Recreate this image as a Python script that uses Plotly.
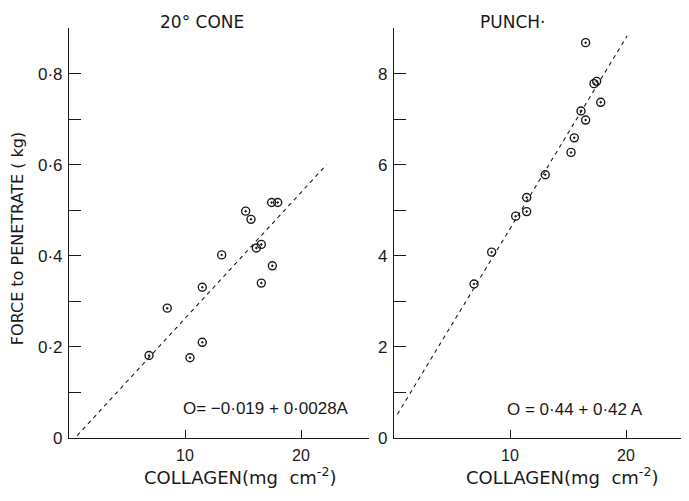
import plotly.graph_objects as go

# ---- data ----
cone_collagen = [6.9, 8.47, 10.43, 11.49, 11.49, 13.16, 15.23, 15.69, 16.15, 16.58, 16.58, 17.53, 17.47, 17.99]
cone_force = [0.181, 0.285, 0.176, 0.210, 0.331, 0.402, 0.498, 0.480, 0.417, 0.425, 0.340, 0.378, 0.517, 0.517]
cone_fit_x = [0.7, 22.2]
cone_fit_y = [0.005, 0.60]

punch_collagen = [6.90, 8.42, 10.49, 11.44, 11.44, 13.04, 15.26, 15.54, 16.12, 16.52, 17.24, 17.47, 17.82, 16.52]
punch_force = [3.38, 4.08, 4.87, 4.97, 5.28, 5.78, 6.27, 6.59, 7.18, 6.98, 7.78, 7.83, 7.37, 8.68]
punch_fit_x = [0.29, 20.1]
punch_fit_y = [0.52, 8.83]

x_tick_vals = [10, 20]
x_tick_text = ["10", "20"]
cone_y_vals = [0, 0.2, 0.4, 0.6, 0.8]
cone_y_text = ["0", "0·2", "0·4", "0·6", "0·8"]
cone_y_minor = [0.1, 0.3, 0.5, 0.7]
punch_y_vals = [0, 2, 4, 6, 8]
punch_y_text = ["0", "2", "4", "6", "8"]
punch_y_minor = [1, 3, 5, 7]

cone_title = "20° CONE"
punch_title = "PUNCH·"
x_title = "COLLAGEN(mg  cm<sup>-2</sup>)"
y_title = "FORCE to PENETRATE ( kg)"
cone_eq = "O= −0·019 + 0·0028A"
punch_eq = "O = 0·44 + 0·42 A"

# page is 689x501; the html body has an 8px margin, so the figure is 16px smaller
OFF = 8
W, H = 689 - 2 * OFF, 501 - 2 * OFF
FONT = "DejaVu Sans"
NUMFONT = "Liberation Sans"
INK = "#1a1a1a"


def px(v):
    return (v - OFF) / W


def py(v):
    return (H - (v - OFF)) / H


fig = go.Figure()

marker = dict(symbol="circle-open-dot", size=8, color=INK, line=dict(width=1.4, color=INK))
dash = dict(color=INK, width=1.1, dash="4px,4px")

fig.add_trace(go.Scatter(x=cone_fit_x, y=cone_fit_y, mode="lines", line=dash, xaxis="x", yaxis="y", hoverinfo="skip"))
fig.add_trace(go.Scatter(x=cone_collagen, y=cone_force, mode="markers", marker=marker, xaxis="x", yaxis="y"))
fig.add_trace(go.Scatter(x=punch_fit_x, y=punch_fit_y, mode="lines", line=dash, xaxis="x2", yaxis="y2", hoverinfo="skip"))
fig.add_trace(go.Scatter(x=punch_collagen, y=punch_force, mode="markers", marker=marker, xaxis="x2", yaxis="y2"))

ydom = [py(447), py(447) + (418.5 / H)]

common_x = dict(showline=True, linecolor=INK, linewidth=1.2, ticks="inside", ticklen=8, tickwidth=1.2,
                tickcolor=INK, showgrid=False, zeroline=False, tickvals=x_tick_vals, ticktext=x_tick_text,
                tickfont=dict(family=NUMFONT, size=16, color=INK), ticklabelstandoff=3, fixedrange=True)
common_y = dict(showline=True, linecolor=INK, linewidth=1.2, ticks="inside", ticklen=12, tickwidth=1.1,
                tickcolor=INK, showgrid=False, zeroline=False,
                tickfont=dict(family=NUMFONT, size=17, color=INK), domain=ydom, ticklabelstandoff=2,
                fixedrange=True)

fig.update_layout(
    width=W, height=H,
    margin=dict(l=0, r=0, t=0, b=0),
    paper_bgcolor="white", plot_bgcolor="white",
    showlegend=False,
    font=dict(family=FONT, color=INK),
    xaxis=dict(domain=[px(69), px(369)], range=[0, 300 / 11.6], anchor="y", **common_x),
    yaxis=dict(anchor="x", range=[0, 0.9], tickvals=cone_y_vals, ticktext=cone_y_text,
               minor=dict(tickvals=cone_y_minor, ticks="inside", ticklen=12, tickwidth=1.1, tickcolor=INK),
               **common_y),
    xaxis2=dict(domain=[px(394), 1.0], range=[0, (W + OFF - 394) / 11.6], anchor="y2", **common_x),
    yaxis2=dict(anchor="x2", range=[0, 9.0], tickvals=punch_y_vals, ticktext=punch_y_text,
                minor=dict(tickvals=punch_y_minor, ticks="inside", ticklen=12, tickwidth=1.1, tickcolor=INK),
                **common_y),
)


def ann(text, x, y, size, family=FONT, angle=0):
    return dict(text=text, x=px(x), y=py(y), xref="paper", yref="paper", showarrow=False,
                xanchor="center", yanchor="middle", textangle=angle,
                font=dict(family=family, size=size, color=INK))


annotations = [
    ann(cone_title, 202, 22, 17),
    ann(punch_title, 512, 22, 17),
    ann(x_title, 240, 486, 18),
    ann(x_title, 562, 486, 18),
    ann(y_title, 17, 244, 16, angle=-90),
    ann(cone_eq, 266, 417, 17, family=NUMFONT),
    ann(punch_eq, 575, 418, 17, family=NUMFONT),
]
fig.update_layout(annotations=annotations)

fig.write_html("out.html")
